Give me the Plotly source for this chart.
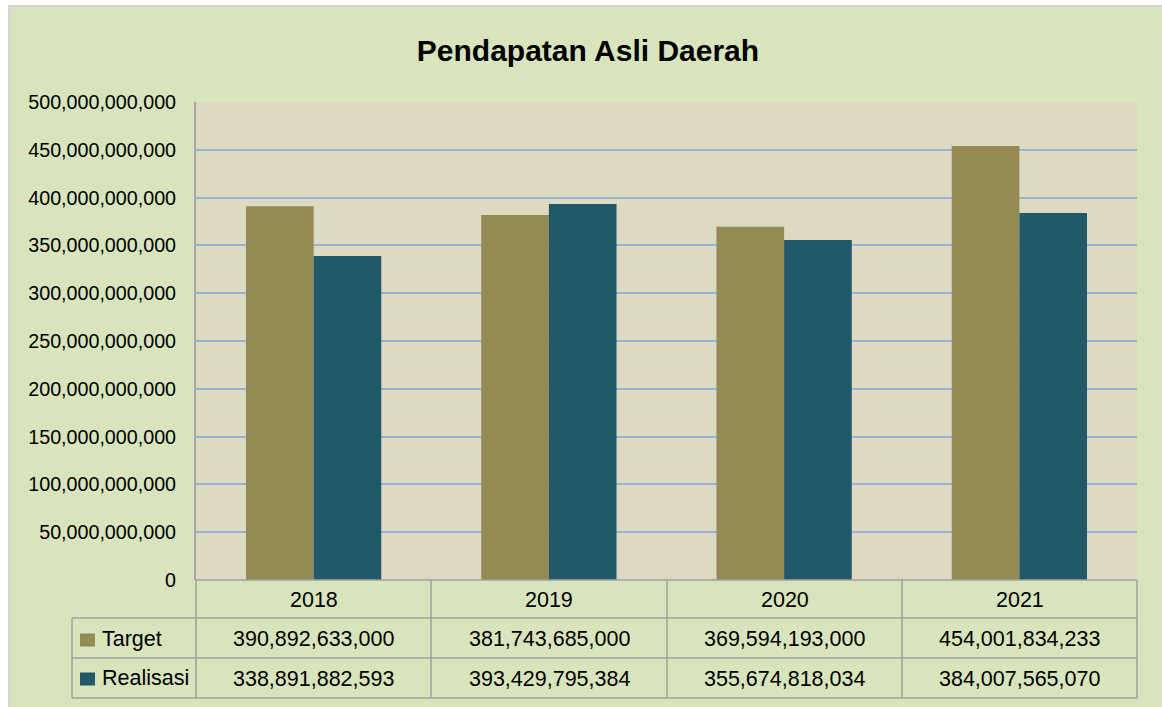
import plotly.graph_objects as go

years = ["2018", "2019", "2020", "2021"]
target = [390892633000, 381743685000, 369594193000, 454001834233]
realisasi = [338891882593, 393429795384, 355674818034, 384007565070]
series_names = ["Target", "Realisasi"]
series_colors = ["#948A54", "#215968"]

W, H = 1162, 707
L, R, T, B = 196, 1137, 102, 580  # plot area in pixels


def px(x):
    return (x - L) / (R - L)


def py(y):
    return (B - y) / (B - T)


FONT = "Liberation Sans, Arial, sans-serif"

fig = go.Figure()
for name, vals, col in zip(series_names, [target, realisasi], series_colors):
    fig.add_trace(go.Bar(x=years, y=vals, name=name, marker_color=col,
                         marker_line_width=0, showlegend=False))

shapes = []
# chart background panel and plot area fill
shapes.append(dict(type="rect", xref="paper", yref="paper", layer="below",
                   x0=px(9), x1=px(1175), y0=py(6), y1=py(720),
                   fillcolor="#D8E4BC", line=dict(color="#D4D4D4", width=2)))
shapes.append(dict(type="rect", xref="paper", yref="paper", layer="below",
                   x0=0, x1=1, y0=0, y1=1, fillcolor="#DDD9C3", line_width=0))

# data table grid under the plot
grid = "#A0A0A0"
cols_x = [196, 431, 667, 902, 1137]
for x in cols_x:
    shapes.append(dict(type="line", xref="paper", yref="paper",
                       x0=px(x), x1=px(x), y0=py(580), y1=py(698),
                       line=dict(color=grid, width=1.5)))
shapes.append(dict(type="line", xref="paper", yref="paper",
                   x0=px(72), x1=px(72), y0=py(618), y1=py(698),
                   line=dict(color=grid, width=1.5)))
for y in [618, 658, 698]:
    shapes.append(dict(type="line", xref="paper", yref="paper",
                       x0=px(72), x1=px(1137), y0=py(y), y1=py(y),
                       line=dict(color=grid, width=1.5)))
shapes.append(dict(type="line", xref="paper", yref="paper",
                   x0=px(196), x1=px(1137), y0=py(580), y1=py(580),
                   line=dict(color=grid, width=1.5)))

cell_font = dict(size=21.5, color="#000000", family=FONT)
annotations = []
for i, yr in enumerate(years):
    cx = (cols_x[i] + cols_x[i + 1]) / 2
    annotations.append(dict(x=px(cx), y=py(600), xref="paper", yref="paper",
                            xanchor="center", yanchor="middle",
                            text=yr, showarrow=False, font=cell_font))
    for vals, yc in [(target, 639), (realisasi, 679)]:
        annotations.append(dict(x=px(cx), y=py(yc), xref="paper", yref="paper",
                                xanchor="center", yanchor="middle",
                                text=f"{vals[i]:,}", showarrow=False,
                                font=cell_font))

# legend keys inside the table
for name, col, yc in zip(series_names, series_colors, [640, 679]):
    shapes.append(dict(type="rect", xref="paper", yref="paper",
                       x0=px(80), x1=px(95), y0=py(yc - 6.5), y1=py(yc + 6.5),
                       fillcolor=col, line_width=0))
    annotations.append(dict(x=px(100), y=py(yc - 1), xref="paper", yref="paper",
                            text=name, showarrow=False,
                            xanchor="left", yanchor="middle", font=cell_font))

fig.update_layout(
    width=W, height=H,
    margin=dict(l=L, r=W - R, t=T, b=H - B),
    paper_bgcolor="#FFFFFF",
    plot_bgcolor="rgba(0,0,0,0)",
    barmode="group",
    bargap=0.425,
    bargroupgap=0,
    title=dict(text="<b>Pendapatan Asli Daerah</b>", x=0.506, xanchor="center",
               y=1 - 50 / H, yanchor="middle",
               font=dict(size=30, color="#000000", family=FONT)),
    xaxis=dict(showticklabels=False, showgrid=False, zeroline=False,
               showline=False, ticks=""),
    yaxis=dict(range=[0, 5e11], dtick=5e10, tickformat=",d",
               showgrid=True, gridcolor="#95B3D7", gridwidth=1.5,
               zeroline=False, showline=True, linecolor="#A6A6A6", linewidth=2,
               ticks="", ticklabelstandoff=14,
               tickfont=dict(size=19.7, color="#000000", family=FONT)),
    shapes=shapes,
    annotations=annotations,
)

fig.write_html("out.html")
